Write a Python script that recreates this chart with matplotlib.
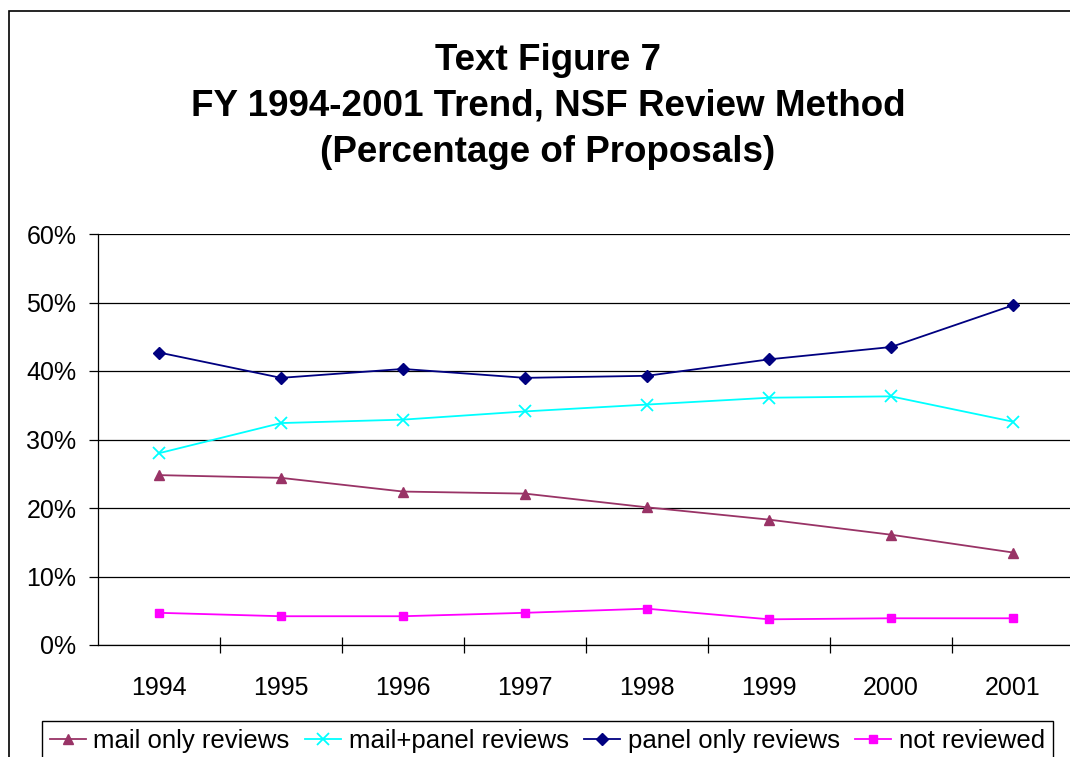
import matplotlib
matplotlib.use("Agg")
import matplotlib.pyplot as plt
from matplotlib.patches import Rectangle

plt.rcParams["font.family"] = ["Liberation Sans", "DejaVu Sans"]

years = ["1994", "1995", "1996", "1997", "1998", "1999", "2000", "2001"]
mail_only = [24.8, 24.4, 22.4, 22.1, 20.1, 18.3, 16.1, 13.5]
mail_panel = [28.0, 32.4, 32.9, 34.1, 35.1, 36.1, 36.3, 32.6]
panel_only = [42.7, 39.0, 40.3, 39.0, 39.3, 41.7, 43.5, 49.6]
not_reviewed = [4.7, 4.2, 4.2, 4.7, 5.3, 3.75, 3.9, 3.9]

W, H = 1070, 757
fig = plt.figure(figsize=(W / 100, H / 100), dpi=100)

# outer chart border (runs off the right and bottom edge)
fig.patches.append(Rectangle((9 / W, -0.2), 1.2, 1.2 - 11 / H,
                             transform=fig.transFigure, fill=False,
                             edgecolor="black", lw=1.2))

ax = fig.add_axes([98 / W, 1 - 645 / H, (1074 - 98) / W, (645 - 234) / H])

x = range(len(years))
ax.plot(x, mail_only, color="#993366", marker="^", ms=7, lw=1.3, label="mail only reviews")
ax.plot(x, mail_panel, color="#00FFFF", marker="x", ms=8, mew=1.3, lw=1.3, label="mail+panel reviews")
ax.plot(x, panel_only, color="#000080", marker="D", ms=6, lw=1.3, label="panel only reviews")
ax.plot(x, not_reviewed, color="#FF00FF", marker="s", ms=6, lw=1.3, label="not reviewed")

ax.set_xlim(-0.5, len(years) - 0.5)
ax.set_ylim(0, 60)
ax.set_yticks(range(0, 61, 10))
ax.set_yticklabels([f"{v}%" for v in range(0, 61, 10)])
ax.yaxis.grid(True, color="black", lw=0.9)
ax.set_axisbelow(True)

ax.set_xticks(list(x))
ax.set_xticklabels(years)
ax.set_xticks([i + 0.5 for i in range(len(years))], minor=True)
ax.tick_params(axis="x", which="major", length=0, pad=22, labelsize=18)
ax.tick_params(axis="x", which="minor", direction="inout", length=11, width=0.9)
ax.tick_params(axis="y", length=6.5, width=0.9, pad=9, labelsize=18)

for s in ["top", "right"]:
    ax.spines[s].set_visible(False)
for s in ["left", "bottom"]:
    ax.spines[s].set_linewidth(0.9)

title_lines = ["Text Figure 7", "FY 1994-2001 Trend, NSF Review Method",
               "(Percentage of Proposals)"]
for line, yc in zip(title_lines, [61, 106, 153]):
    fig.text(548 / W, 1 - yc / H, line, ha="center", va="center",
             fontsize=26.5, fontweight="bold")

fig.legend(loc="upper left", bbox_to_anchor=(42 / W, 1 - 721 / H), ncol=4,
           frameon=True, fancybox=False, edgecolor="black", framealpha=1,
           fontsize=18.5, handlelength=1.4, handletextpad=0.3,
           columnspacing=0.6, borderpad=0.3, borderaxespad=0)

fig.savefig("out.png", dpi=100)
